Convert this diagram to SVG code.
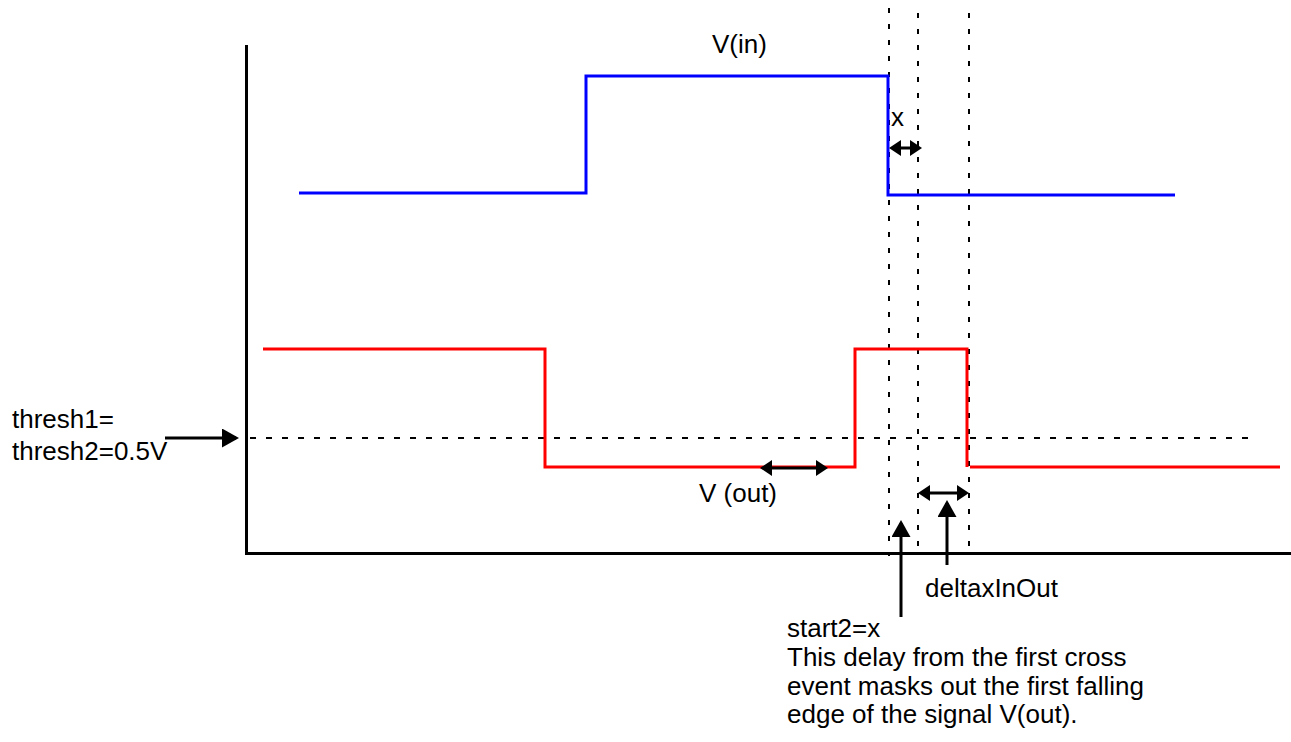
<svg xmlns="http://www.w3.org/2000/svg" width="1291" height="742" viewBox="0 0 1291 742">
<style>
.axis{stroke:#000;stroke-width:3;fill:none}
.vin{stroke:#0000ff;stroke-width:3;fill:none}
.vout{stroke:#ff0000;stroke-width:3;fill:none}
.dash{stroke:#000;stroke-width:2;fill:none;stroke-dasharray:5 11}
.hdash{stroke:#000;stroke-width:2;fill:none;stroke-dasharray:6 10}
.arr{stroke:#000;stroke-width:3;fill:none}
.big{marker-end:url(#bigHead)}
.dbl{marker-start:url(#smallHead);marker-end:url(#smallHead)}
text{font-family:"Liberation Sans",Arial,sans-serif;font-size:26px;fill:#000}
</style>
<defs>
<marker id="bigHead" markerUnits="userSpaceOnUse" markerWidth="17" markerHeight="19" refX="14" refY="9.5" orient="auto" viewBox="0 0 17 19">
<path d="M0,0 L17,9.5 L0,19 Z" fill="#000"/>
</marker>
<marker id="smallHead" markerUnits="userSpaceOnUse" markerWidth="12" markerHeight="16" refX="9" refY="8" orient="auto-start-reverse" viewBox="0 0 12 16">
<path d="M0,0 L12,8 L0,16 Z" fill="#000"/>
</marker>
</defs>
<g id="axes">
<line class="axis" x1="246.5" y1="45" x2="246.5" y2="554"/>
<line class="axis" x1="245" y1="553.5" x2="1291" y2="553.5"/>
</g>
<g id="guides">
<line class="hdash" x1="250" y1="438" x2="1250" y2="438"/>
<line class="dash" x1="889" y1="8" x2="889" y2="556"/>
<line class="dash" x1="918" y1="13" x2="918" y2="556"/>
<line class="dash" x1="969" y1="13" x2="969" y2="556"/>
</g>
<g id="signal-vin">
<polyline class="vin" points="299,193 586,193 586,76 888,76 888,195 1175,195"/>
<text x="712" y="53">V(in)</text>
</g>
<g id="signal-vout">
<polyline class="vout" points="263,349 545,349 545,467 855,467 855,349 967,349 967,467"/>
<line class="vout" x1="970" y1="467" x2="1280" y2="467"/>
<text x="699" y="502">V (out)</text>
</g>
<g id="connectors">
<line class="arr big" x1="165" y1="438" x2="236" y2="438"/>
<line class="arr big" x1="901" y1="617" x2="901" y2="523"/>
<line class="arr big" x1="947" y1="565" x2="947" y2="503"/>
<line class="arr dbl" x1="892" y1="148" x2="919" y2="148"/>
<line class="arr dbl" x1="763" y1="468" x2="825" y2="468"/>
<line class="arr dbl" x1="921" y1="493" x2="966" y2="493"/>
</g>
<g id="label-x"><text x="891" y="126">x</text></g>
<g id="label-thresh">
<text x="12" y="428">thresh1=</text>
<text x="12" y="460">thresh2=0.5V</text>
</g>
<g id="label-delta"><text x="925" y="597">deltaxInOut</text></g>
<g id="label-start2">
<text x="787" y="637">start2=x</text>
<text x="787" y="666">This delay from the first cross</text>
<text x="787" y="695">event masks out the first falling</text>
<text x="787" y="723">edge of the signal V(out).</text>
</g>
</svg>
